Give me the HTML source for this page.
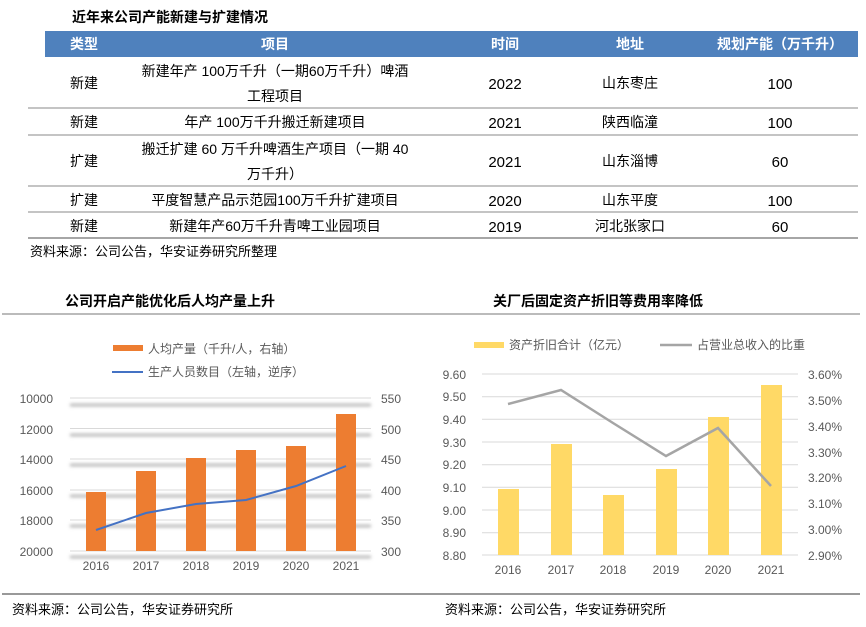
<!DOCTYPE html>
<html><head><meta charset="utf-8"><style>
body{margin:0;background:#fff;width:866px;height:622px;overflow:hidden;font-family:"Liberation Sans","Noto Sans CJK SC",sans-serif}
svg text{font-family:"Liberation Sans","Noto Sans CJK SC",sans-serif}
</style></head><body>
<svg width="866" height="622" xmlns="http://www.w3.org/2000/svg">
<defs><filter id="b" x="-5%" y="-200%" width="110%" height="500%"><feGaussianBlur stdDeviation="1.5"/></filter></defs>
<text x="72" y="22" font-size="14" font-weight="bold" fill="#000">近年来公司产能新建与扩建情况</text>
<rect x="45" y="31" width="813" height="26" fill="#4f81bd"/>
<g font-size="14" font-weight="bold" fill="#fff" text-anchor="middle">
<text x="84" y="49">类型</text><text x="275" y="49">项目</text><text x="505" y="49">时间</text><text x="630" y="49">地址</text><text x="780" y="49">规划产能（万千升）</text></g>
<g stroke="#888" stroke-width="1"><line x1="28" x2="858" y1="108" y2="108"/><line x1="28" x2="858" y1="135" y2="135"/><line x1="28" x2="858" y1="186" y2="186"/><line x1="28" x2="858" y1="212" y2="212"/><line x1="28" x2="858" y1="238" y2="238" stroke-width="1.5"/></g>
<g font-size="14" fill="#000" text-anchor="middle">
<text x="84" y="88">新建</text><text x="275" y="76">新建年产 100万千升（一期60万千升）啤酒</text><text x="275" y="101">工程项目</text>
<text x="84" y="127">新建</text><text x="275" y="127">年产 100万千升搬迁新建项目</text>
<text x="84" y="166">扩建</text><text x="275" y="154">搬迁扩建 60 万千升啤酒生产项目（一期 40</text><text x="275" y="179">万千升）</text>
<text x="84" y="205">扩建</text><text x="275" y="205">平度智慧产品示范园100万千升扩建项目</text>
<text x="84" y="231">新建</text><text x="275" y="231">新建年产60万千升青啤工业园项目</text>
</g>
<g font-size="15" fill="#000" text-anchor="middle">
<text x="505" y="89">2022</text><text x="505" y="128">2021</text><text x="505" y="167">2021</text><text x="505" y="206">2020</text><text x="505" y="232">2019</text>
<text x="780" y="89">100</text><text x="780" y="128">100</text><text x="780" y="167">60</text><text x="780" y="206">100</text><text x="780" y="232">60</text></g>
<g font-size="14" fill="#000" text-anchor="middle">
<text x="630" y="88">山东枣庄</text><text x="630" y="127">陕西临潼</text><text x="630" y="166">山东淄博</text><text x="630" y="205">山东平度</text><text x="630" y="231">河北张家口</text></g>
<text x="30" y="256" font-size="13" fill="#000">资料来源：公司公告，华安证券研究所整理</text>
<!-- left chart -->
<text x="65" y="306" font-size="14" font-weight="bold">公司开启产能优化后人均产量上升</text>
<line x1="2" x2="430" y1="314" y2="314" stroke="#777"/>
<line x1="2" x2="430" y1="594" y2="594" stroke="#333"/>
<text x="12" y="614" font-size="13">资料来源：公司公告，华安证券研究所</text>
<g stroke="#d9d9d9" stroke-width="1">
<line x1="70" x2="371" y1="398" y2="398"/><line x1="70" x2="371" y1="428.5" y2="428.5"/><line x1="70" x2="371" y1="459" y2="459"/><line x1="70" x2="371" y1="490" y2="490"/><line x1="70" x2="371" y1="520" y2="520"/><line x1="70" x2="371" y1="551" y2="551"/></g>
<g stroke="#bbb" stroke-width="3" filter="url(#b)">
<line x1="70" x2="371" y1="405" y2="405"/><line x1="70" x2="371" y1="435" y2="435"/><line x1="70" x2="371" y1="465" y2="465"/><line x1="70" x2="371" y1="496" y2="496"/><line x1="70" x2="371" y1="526" y2="526"/><line x1="70" x2="371" y1="557" y2="557"/></g>
<g fill="#ed7d31">
<rect x="86" y="492" width="20" height="59"/><rect x="136" y="471" width="20" height="80"/><rect x="186" y="458" width="20" height="93"/><rect x="236" y="450" width="20" height="101"/><rect x="286" y="446" width="20" height="105"/><rect x="336" y="414" width="20" height="137"/></g>
<polyline points="96,530 146,513 196,504 246,500 296,486 346,466" fill="none" stroke="#4472c4" stroke-width="2"/>
<g font-size="12" fill="#595959" text-anchor="end">
<text x="53" y="403">10000</text><text x="53" y="434">12000</text><text x="53" y="464">14000</text><text x="53" y="495">16000</text><text x="53" y="525">18000</text><text x="53" y="556">20000</text></g>
<g font-size="12" fill="#595959">
<text x="381" y="403">550</text><text x="381" y="434">500</text><text x="381" y="464">450</text><text x="381" y="495">400</text><text x="381" y="525">350</text><text x="381" y="556">300</text></g>
<g font-size="12" fill="#595959" text-anchor="middle">
<text x="96" y="570">2016</text><text x="146" y="570">2017</text><text x="196" y="570">2018</text><text x="246" y="570">2019</text><text x="296" y="570">2020</text><text x="346" y="570">2021</text></g>
<rect x="113" y="345" width="30" height="6" fill="#ed7d31"/>
<text x="148" y="353" font-size="12" fill="#595959">人均产量（千升/人，右轴）</text>
<line x1="112" x2="143" y1="372" y2="372" stroke="#4472c4" stroke-width="2"/>
<text x="148" y="376" font-size="12" fill="#595959">生产人员数目（左轴，逆序）</text>
<!-- right chart -->
<text x="493" y="306" font-size="14" font-weight="bold">关厂后固定资产折旧等费用率降低</text>
<line x1="430" x2="860" y1="314" y2="314" stroke="#777"/>
<line x1="430" x2="860" y1="594" y2="594" stroke="#333"/>
<text x="445" y="614" font-size="13">资料来源：公司公告，华安证券研究所</text>
<g stroke="#d9d9d9">
<line x1="482" x2="798" y1="374" y2="374"/><line x1="482" x2="798" y1="396.7" y2="396.7"/><line x1="482" x2="798" y1="419.3" y2="419.3"/><line x1="482" x2="798" y1="442" y2="442"/><line x1="482" x2="798" y1="464.7" y2="464.7"/><line x1="482" x2="798" y1="487.3" y2="487.3"/><line x1="482" x2="798" y1="510" y2="510"/><line x1="482" x2="798" y1="532.7" y2="532.7"/><line x1="482" x2="798" y1="555" y2="555"/></g>
<g fill="#ffd966">
<rect x="498" y="489" width="21" height="66"/><rect x="551" y="444" width="21" height="111"/><rect x="603" y="495" width="21" height="60"/><rect x="656" y="469" width="21" height="86"/><rect x="708" y="417" width="21" height="138"/><rect x="761" y="385" width="21" height="170"/></g>
<polyline points="508,404 561,390 613,423 666,456 718,428 771,486" fill="none" stroke="#a5a5a5" stroke-width="2.5"/>
<g font-size="12" fill="#595959" text-anchor="end">
<text x="466" y="379">9.60</text><text x="466" y="401">9.50</text><text x="466" y="424">9.40</text><text x="466" y="447">9.30</text><text x="466" y="469">9.20</text><text x="466" y="492">9.10</text><text x="466" y="515">9.00</text><text x="466" y="537">8.90</text><text x="466" y="560">8.80</text></g>
<g font-size="12" fill="#595959">
<text x="808" y="379">3.60%</text><text x="808" y="405">3.50%</text><text x="808" y="431">3.40%</text><text x="808" y="457">3.30%</text><text x="808" y="482">3.20%</text><text x="808" y="508">3.10%</text><text x="808" y="534">3.00%</text><text x="808" y="560">2.90%</text></g>
<g font-size="12" fill="#595959" text-anchor="middle">
<text x="508" y="574">2016</text><text x="561" y="574">2017</text><text x="613" y="574">2018</text><text x="666" y="574">2019</text><text x="718" y="574">2020</text><text x="771" y="574">2021</text></g>
<rect x="474" y="342" width="30" height="6" fill="#ffd966"/>
<text x="509" y="349" font-size="12" fill="#595959">资产折旧合计（亿元）</text>
<line x1="660" x2="692" y1="345" y2="345" stroke="#a5a5a5" stroke-width="2.5"/>
<text x="697" y="349" font-size="12" fill="#595959">占营业总收入的比重</text>
</svg>
</body></html>
